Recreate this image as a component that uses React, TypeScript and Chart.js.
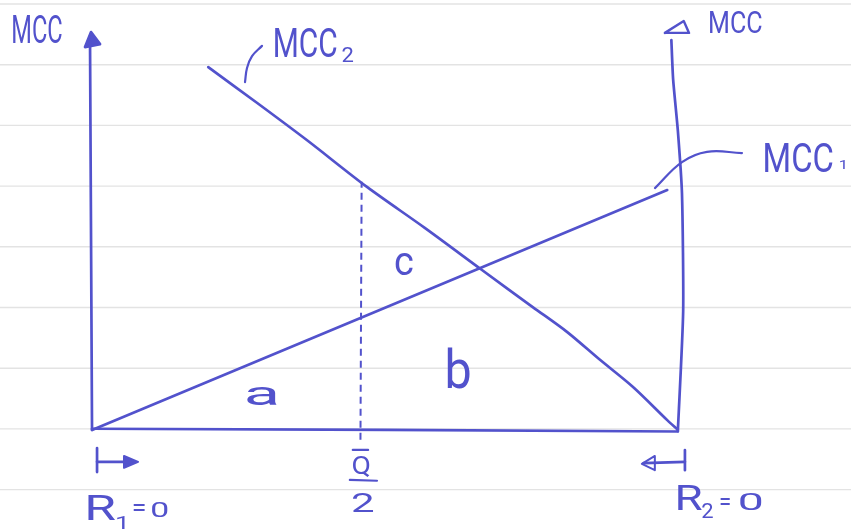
import React, { useEffect, useRef } from "react";
import { Chart, registerables } from "chart.js";

Chart.register(...registerables);

// Abatement quantity runs from R1 = 0 (left axis) to R2 = 0 (right axis), MCC on the vertical.
const MCC1_Q = [0, 97.5];
const MCC1_V = [0, 60.9];

const MCC2_Q = [19.7, 28.0, 36.4, 46.6, 56.4, 66.1, 74.7, 80.5, 86.1, 91.7, 97.5, 99.3];
const MCC2_V = [92.1, 83.0, 73.6, 61.7, 51.3, 40.6, 31.2, 24.9, 17.8, 10.9, 2.5, 0];

const Q_HALF = 45.5;
const Q_HALF_TOP = 63.0;

// Axes of the sketch
const LEFT_AXIS_Q = [0, -0.34];
const LEFT_AXIS_V = [0, 98.5];
const BOTTOM_AXIS_Q = [0, 50, 99.3];
const BOTTOM_AXIS_V = [0.3, 0, -0.4];
const RIGHT_AXIS_Q = [99.3, 100.2, 100.0, 99.3, 98.5, 98.2];
const RIGHT_AXIS_V = [-0.3, 30, 60, 76, 89, 99];

// Leader strokes from the curve names to the curves
const MCC2_LEADER_Q = [25.93, 26.27, 27.12, 28.81];
const MCC2_LEADER_V = [88.3, 91.9, 94.9, 97.5];
const MCC1_LEADER_Q = [95.42, 100.0, 104.24, 110.17];
const MCC1_LEADER_V = [61.4, 68.0, 70.6, 70.3];

const LABELS = [
  { text: "MCC", x: -9.24, y: 101.8, w: 49, h: 28 },
  { text: "MCC", x: 109.15, y: 103.7, w: 52, h: 23 },
  { text: "MCC", x: 36.27, y: 98.35, w: 62, h: 29 },
  { text: "2", x: 43.31, y: 95.18, w: 11, h: 14 },
  { text: "MCC", x: 119.83, y: 69.29, w: 68, h: 30 },
  { text: "1", x: 127.2, y: 67.5, w: 5, h: 9 },
  { text: "a", x: 28.81, y: 8.63, w: 30, h: 18 },
  { text: "b", x: 62.12, y: 15.86, w: 23, h: 41 },
  { text: "c", x: 52.88, y: 42.13, w: 18, h: 22 },
  { text: "Q", x: 45.68, y: -9.14, w: 17, h: 22 },
  { text: "2", x: 45.85, y: -18.4, w: 21, h: 19 },
  { text: "R", x: 1.61, y: -19.67, w: 27, h: 25 },
  { text: "1", x: 4.92, y: -23.6, w: 8, h: 13 },
  { text: "=", x: 7.97, y: -19.54, w: 12, h: 8 },
  { text: "0", x: 11.53, y: -20.18, w: 16, h: 15 },
  { text: "R", x: 101.36, y: -17.13, w: 24, h: 25 },
  { text: "2", x: 104.3, y: -20.43, w: 11, h: 15 },
  { text: "=", x: 107.29, y: -18.02, w: 10, h: 8 },
  { text: "0", x: 111.69, y: -18.15, w: 22, h: 17 },
];

const INK = "#5252cc";
const FONT_FAMILY = "Roboto, 'Open Sans', 'DejaVu Sans', sans-serif";

const X_MIN = -15.6;
const X_MAX = 128.65;
const Y_MIN = -25.4;
const Y_MAX = 109.15;

const pts = (qs: number[], vs: number[]) => qs.map((q, i) => ({ x: q, y: vs[i] }));

const stroke = (data: { x: number; y: number }[], extra: Record<string, unknown> = {}) => ({
  data,
  showLine: true,
  borderColor: INK,
  backgroundColor: INK,
  borderWidth: 2.7,
  pointRadius: 0,
  borderCapStyle: "round",
  borderJoinStyle: "round",
  tension: 0,
  fill: false,
  ...extra,
});

// Ruled notebook paper behind the drawing
const paperPlugin = {
  id: "paper",
  beforeDraw(chart: any) {
    const { ctx, width, height } = chart;
    ctx.save();
    ctx.fillStyle = "#ffffff";
    ctx.fillRect(0, 0, width, height);
    ctx.strokeStyle = "#e3e3e3";
    ctx.lineWidth = 1.4;
    for (let y = 4; y < height; y += 60.7) {
      ctx.beginPath();
      ctx.moveTo(0, y);
      ctx.lineTo(width, y);
      ctx.stroke();
    }
    ctx.restore();
  },
};

// Hand lettering: each label's ink box is fitted to the given width/height around its point
const letteringPlugin = {
  id: "lettering",
  afterDatasetsDraw(chart: any) {
    const { ctx, scales } = chart;
    ctx.save();
    ctx.fillStyle = INK;
    ctx.font = `400 40px ${FONT_FAMILY}`;
    ctx.textAlign = "left";
    ctx.textBaseline = "alphabetic";
    for (const l of LABELS) {
      const px = scales.x.getPixelForValue(l.x);
      const py = scales.y.getPixelForValue(l.y);
      const m = ctx.measureText(l.text);
      const left = m.actualBoundingBoxLeft;
      const right = m.actualBoundingBoxRight;
      const asc = m.actualBoundingBoxAscent;
      const desc = m.actualBoundingBoxDescent;
      const inkW = left + right;
      const inkH = asc + desc;
      ctx.save();
      ctx.translate(px, py);
      ctx.scale(l.w / inkW, l.h / inkH);
      ctx.fillText(l.text, (left - right) / 2, (asc - desc) / 2);
      ctx.restore();
    }
    ctx.restore();
  },
};

export default function App() {
  const canvasRef = useRef<HTMLCanvasElement | null>(null);

  useEffect(() => {
    document.body.style.margin = "0";
    const canvas = canvasRef.current;
    if (!canvas) return;

    const datasets: any[] = [
      // axes
      stroke(pts(LEFT_AXIS_Q, LEFT_AXIS_V)),
      stroke(pts(BOTTOM_AXIS_Q, BOTTOM_AXIS_V)),
      stroke(pts(RIGHT_AXIS_Q, RIGHT_AXIS_V), { tension: 0.2 }),
      // arrow heads on the two MCC axes
      stroke(pts([-1.19, -0.17, 1.36, -1.19], [97.2, 101.0, 97.95, 97.2]), { fill: "shape" }),
      stroke(pts([97.1, 100.3, 101.2, 97.1], [100.8, 103.8, 100.8, 100.8]), { borderWidth: 2.4 }),
      // marginal cost curves
      stroke(pts(MCC1_Q, MCC1_V)),
      stroke(pts(MCC2_Q, MCC2_V), { tension: 0.3 }),
      // Q/2 split
      stroke(pts([Q_HALF, Q_HALF + 0.2], [-2.5, Q_HALF_TOP]), {
        borderWidth: 2,
        borderDash: [7, 5],
        borderCapStyle: "butt",
      }),
      stroke(pts([44.2, 46.8], [-5.08, -5.08]), { borderWidth: 2.2 }),
      stroke(pts([43.7, 48.3], [-12.7, -12.9]), { borderWidth: 2.2 }),
      // leaders to curve names
      stroke(pts(MCC2_LEADER_Q, MCC2_LEADER_V), { tension: 0.4, borderWidth: 2.2 }),
      stroke(pts(MCC1_LEADER_Q, MCC1_LEADER_V), { tension: 0.4, borderWidth: 2.2 }),
      // R1 = 0 start marker, pointing right
      stroke(pts([0.85, 0.85], [-4.6, -10.7])),
      stroke(pts([0.85, 6.6], [-8.1, -8.1])),
      stroke(pts([5.42, 7.8, 5.42, 5.42], [-6.6, -8.1, -9.6, -6.6]), { fill: "shape", borderWidth: 2 }),
      // R2 = 0 start marker, pointing left
      stroke(pts([100.5, 100.5], [-5.1, -10.2])),
      stroke(pts([100.5, 93.5], [-8.1, -8.4])),
      stroke(pts([93.2, 95.4, 95.4, 93.2], [-8.6, -6.6, -10.2, -8.6]), { borderWidth: 2 }),
    ];

    const chart = new Chart(canvas, {
      type: "scatter",
      data: { datasets },
      options: {
        animation: false,
        responsive: false,
        maintainAspectRatio: false,
        devicePixelRatio: 1,
        events: [],
        layout: { padding: 0 },
        plugins: {
          legend: { display: false },
          tooltip: { enabled: false },
        },
        scales: {
          x: { type: "linear", min: X_MIN, max: X_MAX, display: false },
          y: { type: "linear", min: Y_MIN, max: Y_MAX, display: false },
        },
      },
      plugins: [paperPlugin, letteringPlugin],
    });

    return () => chart.destroy();
  }, []);

  return (
    <canvas
      ref={canvasRef}
      width={851}
      height={530}
      style={{ display: "block", width: 851, height: 530 }}
    />
  );
}
